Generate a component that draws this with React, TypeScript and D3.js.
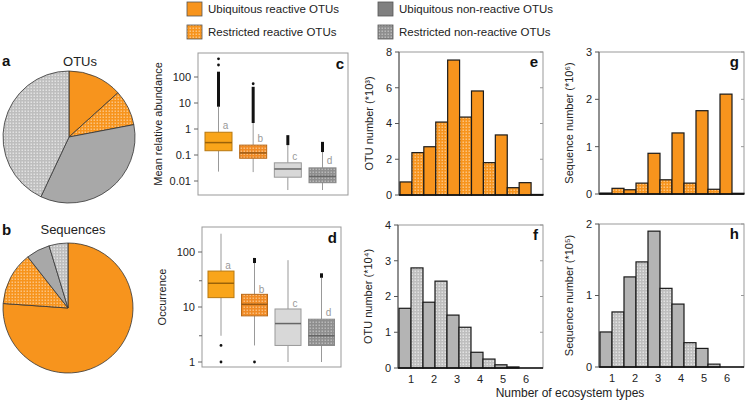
import React from 'react';
import * as d3 from 'd3';

const W = 745;
const H = 403;
const FONT = '"Liberation Sans", Arial, sans-serif';

const ORANGE = '#F7941D';
const ORANGE_BOX = '#F9A51A';
const GRAY = '#A8A8A8';
const GRAY_BAR = '#B4B4B4';
const GRAY_LEGEND = '#808080';
const GRAY_BOX = '#D8D8D8';

// legend / groups
const groupNames = [
  'Ubiquitous reactive OTUs',
  'Restricted reactive OTUs',
  'Ubiquitous non-reactive OTUs',
  'Restricted non-reactive OTUs',
];

// panels a, b: shares (%)
const otuShare = [13.3, 8.7, 35.0, 43.0];
const seqShare = [76.1, 13.3, 5.9, 4.7];

// panel c: mean relative abundance (log)
const abLow = [0.023, 0.022, 0.0045, 0.0045];
const abQ1 = [0.146, 0.075, 0.014, 0.0086];
const abMed = [0.3, 0.12, 0.029, 0.015];
const abQ3 = [0.75, 0.24, 0.05, 0.032];
const abHigh = [7.2, 1.7, 0.24, 0.13];
const abOutTop = [160, 42, 0.58, 0.32];
const abOutDots = [[290, 500], [55], [], []];
const abLetterAt = [1.4, 0.45, 0.09, 0.06];
const abTicks = [0.01, 0.1, 1, 10, 100];
const abTickLabels = ['0.01', '0.1', '1', '10', '100'];

// panel d: occurrence (log)
const occLow = [3, 2, 1, 1];
const occQ1 = [14.8, 6.9, 2, 2];
const occMed = [27, 11.2, 5, 3];
const occQ3 = [45, 17, 9.2, 6];
const occHigh = [215, 63, 71, 34];
const occOutTop = [215, 78, 71, 41];
const occOutDots = [[2, 1], [1], [], []];
const occLetterAt = [58, 21, 11.8, 7.8];
const occTicks = [1, 10, 100];
const occTickLabels = ['1', '10', '100'];
const occMinor = [3, 30];

const boxLetters = ['a', 'b', 'c', 'd'];

// panels e-h: number of ecosystem types
const ecoTypes = ['1', '2', '3', '4', '5', '6'];
const eSolid = [0.73, 2.7, 7.55, 5.82, 3.36, 0.69];
const eHatched = [2.37, 4.08, 4.36, 1.81, 0.41, 0.03];
const fSolid = [1.67, 1.84, 1.48, 0.44, 0.09, 0];
const fHatched = [2.8, 2.43, 1.14, 0.25, 0.03, 0];
const gSolid = [0.02, 0.09, 0.86, 1.29, 1.76, 2.11];
const gHatched = [0.12, 0.23, 0.3, 0.23, 0.1, 0.015];
const hSolid = [0.49, 1.26, 1.9, 0.88, 0.26, 0];
const hHatched = [0.77, 1.47, 1.1, 0.34, 0.04, 0];

const Patterns = () => (
  <defs>
    {[
      ['hatchOrange', ORANGE, '#FBC27E'],
      ['hatchOrangeBox', '#F08A24', '#F9BD7C'],
      ['hatchGray', '#BEBEBE', '#E2E2E2'],
      ['hatchGrayDark', '#8E8E8E', '#B8B8B8'],
    ].map(([id, base, light]) => (
      <pattern key={id} id={id} width={3} height={3} patternUnits="userSpaceOnUse">
        <rect width={3} height={3} fill={base} />
        <rect x={0.5} y={0.5} width={1.5} height={1.5} fill={light} />
      </pattern>
    ))}
  </defs>
);

const Pie = ({ cx, cy, r, values, fills }) => {
  const arcs = d3.pie<number>().sort(null).value(d => d)(values);
  const arc = d3.arc<d3.PieArcDatum<number>>().innerRadius(0).outerRadius(r);
  return (
    <g transform={`translate(${cx},${cy})`}>
      {arcs.map((a, i) => (
        <path key={i} d={arc(a) || ''} fill={fills[i]} stroke="#333" strokeWidth={0.8} />
      ))}
    </g>
  );
};

const BoxPanel = ({ frame, y, centers, boxW, low, q1, med, q3, high, outTop, outDots, letterAt, ticks, tickLabels, minor, fills, strokes, medians, letter, title }) => {
  const x = d3.scalePoint<number>().domain(d3.range(4)).range(centers);
  const [fx0, fy0, fx1, fy1] = frame;
  return (
    <g fontFamily={FONT}>
      <rect x={fx0} y={fy0} width={fx1 - fx0} height={fy1 - fy0} fill="none" stroke="#999" strokeWidth={1} />
      {ticks.map((t, i) => (
        <g key={t}>
          <line x1={fx0 - 4} x2={fx0} y1={y(t)} y2={y(t)} stroke="#666" />
          <text x={fx0 - 7} y={y(t)} dy="0.35em" textAnchor="end" fontSize={11} fill="#222">{tickLabels[i]}</text>
        </g>
      ))}
      {minor.map(t => (
        <line key={t} x1={fx0 - 3} x2={fx0} y1={y(t)} y2={y(t)} stroke="#666" />
      ))}
      {d3.range(4).map(i => {
        const cx = x(i) as number;
        return (
          <g key={i}>
            <line x1={cx} x2={cx} y1={y(low[i])} y2={y(q1[i])} stroke="#999" />
            <line x1={cx} x2={cx} y1={y(q3[i])} y2={y(high[i])} stroke="#999" />
            {outTop[i] > high[i] && (
              <line x1={cx} x2={cx} y1={y(high[i])} y2={y(outTop[i])} stroke="#111" strokeWidth={3} />
            )}
            {outDots[i].map(v => (
              <circle key={v} cx={cx} cy={y(v)} r={1.4} fill="#111" />
            ))}
            <rect x={cx - boxW / 2} y={y(q3[i])} width={boxW} height={y(q1[i]) - y(q3[i])} fill={fills[i]} stroke={strokes[i]} strokeWidth={1} />
            <line x1={cx - boxW / 2} x2={cx + boxW / 2} y1={y(med[i])} y2={y(med[i])} stroke={medians[i]} strokeWidth={1.5} />
            <text x={cx + 7} y={y(letterAt[i])} dy="0.35em" textAnchor="middle" fontSize={10} fill="#999">{boxLetters[i]}</text>
          </g>
        );
      })}
      <text x={fx1 - 4} y={fy0 + 16} textAnchor="end" fontSize={15} fontWeight="bold" fill="#111">{letter}</text>
      <text transform={`translate(${fx0 - 36},${(fy0 + fy1) / 2}) rotate(-90)`} textAnchor="middle" fontSize={11} fill="#222">{title}</text>
    </g>
  );
};

const BarPanel = ({ frame, max, tickStep, solid, hatched, solidFill, hatchFill, letter, title, showX }) => {
  const [fx0, fy0, fx1, fy1] = frame;
  const x = d3.scaleBand<number>().domain(d3.range(12)).range([fx0 + 1, fx1]).padding(0);
  const y = d3.scaleLinear().domain([0, max]).range([fy1, fy0]);
  const bars = ecoTypes.flatMap((_, i) => [
    { v: solid[i], fill: solidFill },
    { v: hatched[i], fill: hatchFill },
  ]);
  const bw = x.bandwidth();
  const tx = d3.scaleLinear().domain([1, 6]).range([(x(0) as number) + bw, (x(0) as number) + bw + 5 * 23]);
  const ticks = d3.range(0, max + 0.001, tickStep);
  return (
    <g fontFamily={FONT}>
      <rect x={fx0} y={fy0} width={fx1 - fx0} height={fy1 - fy0} fill="none" stroke="#999" strokeWidth={1} />
      {ticks.map(t => (
        <g key={t}>
          <line x1={fx0 - 4} x2={fx0} y1={y(t)} y2={y(t)} stroke="#555" />
          <line x1={fx1} x2={fx1 - 3} y1={y(t)} y2={y(t)} stroke="#999" />
          <text x={fx0 - 7} y={y(t)} dy="0.35em" textAnchor="end" fontSize={11} fill="#222">{t}</text>
        </g>
      ))}
      <line x1={fx0} x2={fx0} y1={fy0} y2={fy1} stroke="#555" />
      {bars.map((b, i) =>
        b.v > 0 ? (
          <rect key={i} x={x(i)} y={y(b.v)} width={bw} height={y(0) - y(b.v)} fill={b.fill} stroke="#1a1a1a" strokeWidth={1.2} />
        ) : null
      )}
      <line x1={fx0} x2={fx1} y1={fy1} y2={fy1} stroke="#111" strokeWidth={1.3} />
      {showX && ecoTypes.map((t, i) => (
        <text key={t} x={tx(i + 1)} y={fy1 + 15} textAnchor="middle" fontSize={11} fill="#222">{t}</text>
      ))}
      <text x={fx1 - 5} y={fy0 + 15} textAnchor="end" fontSize={15} fontWeight="bold" fill="#111">{letter}</text>
      <text transform={`translate(${fx0 - 26},${(fy0 + fy1) / 2}) rotate(-90)`} textAnchor="middle" fontSize={11} fill="#222">{title}</text>
    </g>
  );
};

const legendFills = [ORANGE, 'url(#hatchOrange)', GRAY_LEGEND, 'url(#hatchGrayDark)'];
const pieFills = [ORANGE, 'url(#hatchOrange)', GRAY, 'url(#hatchGray)'];

export default function App() {
  const yAb = d3.scaleLog().domain([0.01, 100]).range([181, 77]);
  const yOcc = d3.scaleLog().domain([1, 100]).range([362, 252]);
  const legendX = d3.scalePoint<number>().domain([0, 1]).range([187, 378]);
  const legendY = d3.scalePoint<number>().domain([0, 1]).range([2, 25]);
  return (
    <div style={{ position: 'absolute', left: 0, top: 0 }}>
      <svg width={W} height={H} viewBox={`0 0 ${W} ${H}`} style={{ display: 'block', background: '#fff' }}>
        <Patterns />
        {/* legend */}
        <g fontFamily={FONT}>
          {groupNames.map((name, i) => {
            const lx = legendX(Math.floor(i / 2)) as number;
            const ly = legendY(i % 2) as number;
            return (
              <g key={name}>
                <rect x={lx} y={ly} width={15} height={14} fill={legendFills[i]} stroke="#555" strokeWidth={0.8} />
                <text x={lx + 21} y={ly + 7} dy="0.35em" fontSize={11.5} fill="#222">{name}</text>
              </g>
            );
          })}
        </g>

        {/* pies */}
        <g fontFamily={FONT}>
          <text x={2} y={66} fontSize={15} fontWeight="bold" fill="#111">a</text>
          <text x={80} y={66} textAnchor="middle" fontSize={13} fill="#222">OTUs</text>
          <Pie cx={69} cy={137} r={66} values={otuShare} fills={pieFills} />
          <text x={2} y={235} fontSize={15} fontWeight="bold" fill="#111">b</text>
          <text x={73} y={234} textAnchor="middle" fontSize={13} fill="#222">Sequences</text>
          <Pie cx={68} cy={308} r={65} values={seqShare} fills={pieFills} />
        </g>

        <BoxPanel
          frame={[198, 53, 348, 195]} y={yAb} centers={[218.5, 322.5]} boxW={27}
          low={abLow} q1={abQ1} med={abMed} q3={abQ3} high={abHigh} outTop={abOutTop} outDots={abOutDots}
          letterAt={abLetterAt} ticks={abTicks} tickLabels={abTickLabels} minor={[]}
          fills={[ORANGE_BOX, 'url(#hatchOrangeBox)', GRAY_BOX, 'url(#hatchGrayDark)']}
          strokes={['#B8780F', '#B86A1A', '#999', '#888']}
          medians={['#9A6208', '#9A5A14', '#666', '#666']}
          letter="c" title="Mean relative abundance"
        />
        <BoxPanel
          frame={[202, 227, 341, 367]} y={yOcc} centers={[221, 321.5]} boxW={26}
          low={occLow} q1={occQ1} med={occMed} q3={occQ3} high={occHigh} outTop={occOutTop} outDots={occOutDots}
          letterAt={occLetterAt} ticks={occTicks} tickLabels={occTickLabels} minor={occMinor}
          fills={[ORANGE_BOX, 'url(#hatchOrangeBox)', GRAY_BOX, 'url(#hatchGrayDark)']}
          strokes={['#B8780F', '#B86A1A', '#999', '#888']}
          medians={['#9A6208', '#9A5A14', '#666', '#666']}
          letter="d" title="Occurrence"
        />

        <BarPanel frame={[399, 52, 543, 195]} max={8} tickStep={2} solid={eSolid} hatched={eHatched}
          solidFill={ORANGE} hatchFill="url(#hatchOrange)" letter="e" title="OTU number (*10³)" showX={false} />
        <BarPanel frame={[398, 225, 543, 368]} max={4} tickStep={1} solid={fSolid} hatched={fHatched}
          solidFill={GRAY_BAR} hatchFill="url(#hatchGray)" letter="f" title="OTU number (*10⁴)" showX={true} />
        <BarPanel frame={[599, 52, 744, 194]} max={3} tickStep={1} solid={gSolid} hatched={gHatched}
          solidFill={ORANGE} hatchFill="url(#hatchOrange)" letter="g" title="Sequence number (*10⁶)" showX={false} />
        <BarPanel frame={[599, 224, 744, 367]} max={2} tickStep={1} solid={hSolid} hatched={hHatched}
          solidFill={GRAY_BAR} hatchFill="url(#hatchGray)" letter="h" title="Sequence number (*10⁵)" showX={true} />

        <text x={570} y={397} textAnchor="middle" fontFamily={FONT} fontSize={12} fill="#222">Number of ecosystem types</text>
      </svg>
    </div>
  );
}
